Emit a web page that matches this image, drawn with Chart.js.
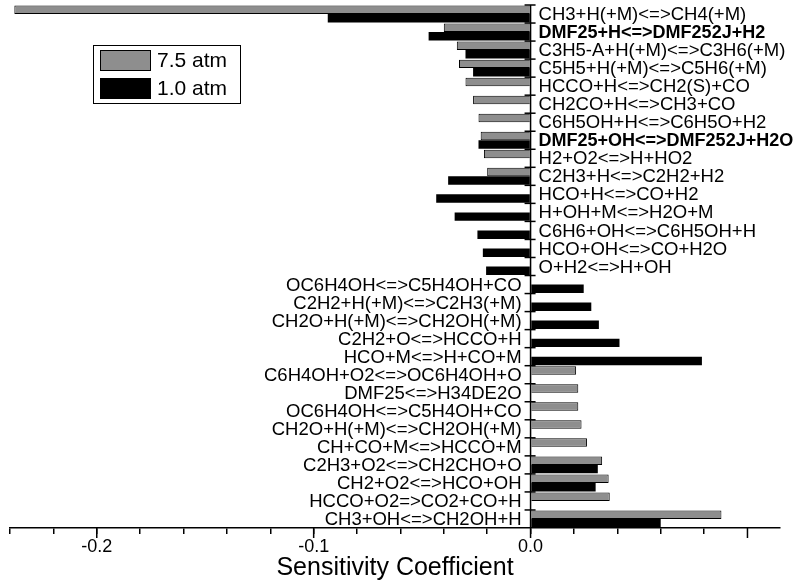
<!DOCTYPE html>
<html>
<head>
<meta charset="utf-8">
<script src="https://cdn.jsdelivr.net/npm/chart.js@4"></script>
<style>
  body { margin: 0; background: #fff; }
  #wrap { width: 800px; height: 587px; position: relative; }
</style>
</head>
<body>
<div id="wrap"><canvas id="sensChart"></canvas></div>
<script>
const reactions = [
    'CH3+H(+M)<=>CH4(+M)',
    'DMF25+H<=>DMF252J+H2',
    'C3H5-A+H(+M)<=>C3H6(+M)',
    'C5H5+H(+M)<=>C5H6(+M)',
    'HCCO+H<=>CH2(S)+CO',
    'CH2CO+H<=>CH3+CO',
    'C6H5OH+H<=>C6H5O+H2',
    'DMF25+OH<=>DMF252J+H2O',
    'H2+O2<=>H+HO2',
    'C2H3+H<=>C2H2+H2',
    'HCO+H<=>CO+H2',
    'H+OH+M<=>H2O+M',
    'C6H6+OH<=>C6H5OH+H',
    'HCO+OH<=>CO+H2O',
    'O+H2<=>H+OH',
    'OC6H4OH<=>C5H4OH+CO',
    'C2H2+H(+M)<=>C2H3(+M)',
    'CH2O+H(+M)<=>CH2OH(+M)',
    'C2H2+O<=>HCCO+H',
    'HCO+M<=>H+CO+M',
    'C6H4OH+O2<=>OC6H4OH+O',
    'DMF25<=>H34DE2O',
    'OC6H4OH<=>C5H4OH+CO',
    'CH2O+H(+M)<=>CH2OH(+M)',
    'CH+CO+M<=>HCCO+M',
    'C2H3+O2<=>CH2CHO+O',
    'CH2+O2<=>HCO+OH',
    'HCCO+O2=>CO2+CO+H',
    'CH3+OH<=>CH2OH+H'
];
const boldReactions = ['DMF25+H<=>DMF252J+H2', 'DMF25+OH<=>DMF252J+H2O'];

// sensitivity at 7.5 atm (gray)
const sens75 = [-0.238, -0.040, -0.034, -0.033, -0.030, -0.0265, -0.024, -0.023, -0.0215, -0.020,
    null, null, null, null, null, null, null, null, null, null,
    0.021, 0.022, 0.022, 0.0235, 0.026, 0.033, 0.036, 0.0365, 0.088];
// sensitivity at 1.0 atm (black)
const sens10 = [-0.0935, -0.047, -0.030, -0.0265, null, null, null, -0.024, null, -0.038,
    -0.0435, -0.035, -0.0245, -0.022, -0.0205, 0.0245, 0.028, 0.0315, 0.041, 0.079,
    null, null, null, null, null, 0.031, 0.030, null, 0.060];

const seriesNames = ['7.5 atm', '1.0 atm'];
const xTicks = [-0.2, -0.1, 0.0, 0.1];

const FONT = "'Liberation Sans', Arial, sans-serif";

// reaction names sit next to the zero line, on the side away from the bars
const labelPlugin = {
    id: 'reactionLabels',
    afterDatasetsDraw(chart) {
        const ctx = chart.ctx;
        const xs = chart.scales.x, ys = chart.scales.y;
        const x0 = xs.getPixelForValue(0);
        const step = ys.getPixelForValue(1) - ys.getPixelForValue(0);
        ctx.save();
        // zero line
        ctx.strokeStyle = '#000';
        ctx.lineWidth = 1.5;
        ctx.beginPath();
        ctx.moveTo(x0, chart.chartArea.top);
        ctx.lineTo(x0, chart.chartArea.bottom);
        ctx.stroke();
        // small ticks at category borders
        for (let i = 0; i < reactions.length; i++) {
            const yb = ys.getPixelForValue(i) - step / 2;
            ctx.beginPath();
            ctx.moveTo(x0 - 6, yb);
            ctx.lineTo(x0 + 5, yb);
            ctx.stroke();
        }
        // longer marks for the labelled x ticks
        const yb = chart.chartArea.bottom;
        xTicks.forEach(t => {
            const px = xs.getPixelForValue(t);
            ctx.beginPath();
            ctx.moveTo(px, yb);
            ctx.lineTo(px, yb + 10);
            ctx.stroke();
        });
        ctx.fillStyle = '#000';
        ctx.textBaseline = 'middle';
        reactions.forEach((r, i) => {
            const y = ys.getPixelForValue(i) + 1;
            const positive = (sens75[i] || 0) + (sens10[i] || 0) > 0;
            ctx.font = boldReactions.includes(r) ? 'bold 18px ' + FONT : '18.5px ' + FONT;
            if (positive) {
                ctx.textAlign = 'right';
                ctx.fillText(r, x0 - 9, y);
            } else {
                ctx.textAlign = 'left';
                ctx.fillText(r, x0 + 8, y);
            }
        });
        ctx.restore();
    }
};

// boxed legend in the empty upper-left area
const legendPlugin = {
    id: 'boxLegend',
    afterDraw(chart) {
        const ctx = chart.ctx;
        ctx.save();
        ctx.strokeStyle = '#000';
        ctx.lineWidth = 1;
        ctx.strokeRect(93.5, 45.5, 147, 58);
        chart.data.datasets.forEach((ds, i) => {
            const y = 50 + i * 28;
            ctx.fillStyle = ds.backgroundColor;
            ctx.fillRect(100, y, 51, 21);
            ctx.strokeStyle = '#000';
            ctx.strokeRect(100.5, y + 0.5, 50, 20);
            ctx.fillStyle = '#000';
            ctx.font = '21px ' + FONT;
            ctx.textAlign = 'left';
            ctx.textBaseline = 'middle';
            ctx.fillText(ds.label, 157, y + 11);
        });
        ctx.restore();
    }
};

new Chart(document.getElementById('sensChart'), {
    type: 'bar',
    data: {
        labels: reactions,
        datasets: [{
            label: seriesNames[0],
            data: sens75,
            backgroundColor: '#8e8e8e',
            borderColor: '#000',
            borderWidth: 1
        }, {
            label: seriesNames[1],
            data: sens10,
            backgroundColor: '#000',
            borderWidth: 0
        }]
    },
    options: {
        indexAxis: 'y',
        responsive: true,
        maintainAspectRatio: false,
        animation: false,
        layout: { padding: { left: 10, right: 20, top: 5, bottom: 0 } },
        datasets: { bar: { categoryPercentage: 0.94, barPercentage: 1.0 } },
        plugins: {
            legend: { display: false },
            tooltip: { enabled: false }
        },
        scales: {
            y: { display: false },
            x: {
                min: -0.24,
                max: 0.115,
                border: { display: true, color: '#000', width: 1.5 },
                grid: {
                    drawOnChartArea: false,
                    tickColor: '#000',
                    tickLength: 6,
                    lineWidth: 1.5
                },
                ticks: {
                    stepSize: 0.02,
                    color: '#000',
                    font: { family: FONT, size: 18, lineHeight: 1.0 },
                    padding: 4,
                    maxRotation: 0,
                    autoSkip: false,
                    callback: v => {
                        const r = Math.round(v * 10) / 10;
                        return xTicks.some(t => Math.abs(t - v) < 1e-6) ? r.toFixed(1) : '';
                    }
                },
                afterBuildTicks: scale => {
                    scale.ticks = scale.ticks.filter(t => Math.abs(t.value / 0.02 - Math.round(t.value / 0.02)) < 1e-6);
                },
                title: {
                    display: true,
                    text: 'Sensitivity Coefficient',
                    color: '#000',
                    font: { family: FONT, size: 25, lineHeight: 0.64 },
                    padding: { top: 0, bottom: 11 }
                }
            }
        }
    },
    plugins: [labelPlugin, legendPlugin]
});
</script>
</body>
</html>
